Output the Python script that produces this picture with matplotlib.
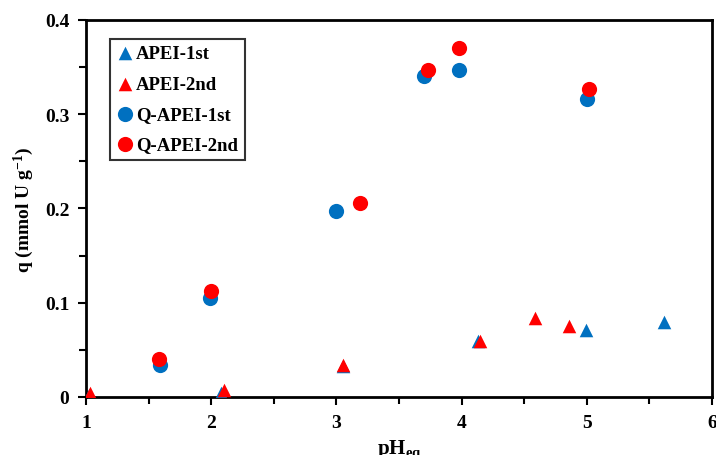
import matplotlib
matplotlib.use("Agg")
import matplotlib.pyplot as plt
from matplotlib.ticker import MultipleLocator

apei1_x = [1.02, 2.08, 3.05, 4.13, 4.99, 5.62]
apei1_q = [0.002, 0.004, 0.033, 0.059, 0.071, 0.080]
apei2_x = [1.03, 2.10, 3.055, 4.15, 4.59, 4.86]
apei2_q = [0.004, 0.007, 0.034, 0.059, 0.084, 0.075]
qapei1_x = [1.59, 1.99, 3.00, 3.70, 3.98, 5.00]
qapei1_q = [0.034, 0.105, 0.197, 0.340, 0.347, 0.316]
qapei2_x = [1.585, 2.00, 3.19, 3.73, 3.98, 5.02]
qapei2_q = [0.040, 0.112, 0.206, 0.347, 0.370, 0.327]

blue = "#0070C0"
red = "#FF0000"

plt.rcParams['font.family'] = ['Liberation Serif', 'DejaVu Serif']
plt.rcParams['font.weight'] = 'bold'
plt.rcParams['mathtext.fontset'] = 'custom'
plt.rcParams['mathtext.rm'] = 'Liberation Serif:bold'
plt.rcParams['mathtext.default'] = 'rm'

fig = plt.figure(figsize=(7.16, 4.56), dpi=100)
ax = fig.add_axes([86/716, 1-398/456, (712-86)/716, (398-20.7)/456])

ax.scatter(apei1_x, apei1_q, marker='^', s=95, color=blue, label='APEI-1st', zorder=3, linewidths=0)
ax.scatter(apei2_x, apei2_q, marker='^', s=95, color=red, label='APEI-2nd', zorder=4, linewidths=0)
ax.scatter(qapei1_x, qapei1_q, marker='o', s=120, color=blue, label='Q-APEI-1st', zorder=3, linewidths=0)
ax.scatter(qapei2_x, qapei2_q, marker='o', s=120, color=red, label='Q-APEI-2nd', zorder=4, linewidths=0)

ax.set_xlim(1, 6)
ax.set_ylim(0, 0.4)
ax.xaxis.set_major_locator(MultipleLocator(1))
ax.xaxis.set_minor_locator(MultipleLocator(0.5))
ax.yaxis.set_major_locator(MultipleLocator(0.1))
ax.yaxis.set_minor_locator(MultipleLocator(0.05))
ax.set_yticks([0, 0.1, 0.2, 0.3, 0.4])
ax.set_yticklabels(['0', '0.1', '0.2', '0.3', '0.4'])
ax.tick_params(which='major', direction='out', length=6, width=1.5, labelsize=14, pad=6)
ax.tick_params(which='minor', direction='out', length=5, width=1.5)
for lab in ax.get_xticklabels() + ax.get_yticklabels():
    lab.set_fontweight('bold')
for sp in ax.spines.values():
    sp.set_linewidth(2)

ax.set_xlabel('pH$_{eq}$', fontsize=15, fontweight='bold', labelpad=5)
ax.set_ylabel('q (mmol U g$^{-1}$)', fontsize=14, fontweight='bold', labelpad=6)

leg = ax.legend(loc='upper left', bbox_to_anchor=(0.038, 0.95),
                frameon=True, fancybox=False, edgecolor='black', handletextpad=0.15,
                handlelength=0.9, borderpad=0.35, labelspacing=0.7, borderaxespad=0,
                prop={'weight': 'bold', 'size': 13.5})
leg.get_frame().set_linewidth(1.5)

fig.savefig('out.png', dpi=100)
